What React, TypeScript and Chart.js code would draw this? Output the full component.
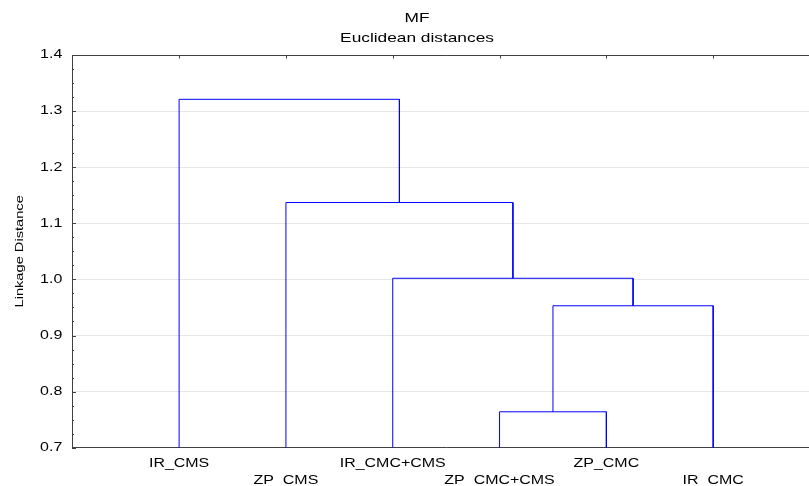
import React, { useEffect, useRef } from "react";
import { Chart, registerables } from "chart.js";

Chart.register(...registerables);

// ---- data ----
const LEAVES = ["IR_CMS", "ZP_CMS", "IR_CMC+CMS", "ZP_CMC+CMS", "ZP_CMC", "IR_CMC"];
// merges reference node ids: 0..5 are leaves, 6.. are merged clusters in order
const MERGE_LEFT = [3, 6, 2, 1, 0];
const MERGE_RIGHT = [4, 5, 7, 8, 9];
const MERGE_HEIGHT = [0.764, 0.953, 1.002, 1.137, 1.321];
const Y_MIN = 0.7;
const Y_MAX = 1.4;
const Y_STEP = 0.1;
const Y_MINOR_STEP = 0.025;
const TITLE_LINES = ["MF", "Euclidean distances"];
const Y_TITLE = "Linkage Distance";

const FONT = "Arial, 'Liberation Sans', sans-serif";
const TEXT_STRETCH = 1.33;
const AXIS_COLOR = "#404040";
const LINK_COLOR = "#0000ff";

function buildDatasets() {
  const nodeX: number[] = LEAVES.map((_, i) => i + 1);
  const nodeH: number[] = LEAVES.map(() => Y_MIN);
  const sets: any[] = [];
  for (let k = 0; k < MERGE_HEIGHT.length; k++) {
    const a = MERGE_LEFT[k];
    const b = MERGE_RIGHT[k];
    const h = MERGE_HEIGHT[k];
    sets.push({
      data: [
        { x: nodeX[a], y: nodeH[a] },
        { x: nodeX[a], y: h },
        { x: nodeX[b], y: h },
        { x: nodeX[b], y: nodeH[b] },
      ],
      showLine: true,
      borderColor: LINK_COLOR,
      borderWidth: 1,
      pointRadius: 0,
      pointHoverRadius: 0,
      tension: 0,
      fill: false,
    });
    nodeX.push((nodeX[a] + nodeX[b]) / 2);
    nodeH.push(h);
  }
  return sets;
}

function stretchText(ctx: any) {
  if (ctx.__stretched) return;
  ctx.__stretched = true;
  const origFill = ctx.fillText.bind(ctx);
  const origMeasure = ctx.measureText.bind(ctx);
  ctx.fillText = (text: string, x: number, y: number, maxWidth?: number) => {
    ctx.save();
    ctx.translate(x, y);
    ctx.scale(TEXT_STRETCH, 1);
    if (maxWidth !== undefined && maxWidth !== null) origFill(text, 0, 0, maxWidth / TEXT_STRETCH);
    else origFill(text, 0, 0);
    ctx.restore();
  };
  ctx.measureText = (text: string) => {
    const m = origMeasure(text);
    return {
      width: m.width * TEXT_STRETCH,
      actualBoundingBoxAscent: m.actualBoundingBoxAscent,
      actualBoundingBoxDescent: m.actualBoundingBoxDescent,
      actualBoundingBoxLeft: m.actualBoundingBoxLeft * TEXT_STRETCH,
      actualBoundingBoxRight: m.actualBoundingBoxRight * TEXT_STRETCH,
    };
  };
}

const framePlugin = {
  id: "frame",
  afterDatasetsDraw(chart: any) {
    const { ctx, chartArea, scales } = chart;
    const { left, right, top } = chartArea;
    const x = scales.x;
    const y = scales.y;
    ctx.save();
    ctx.strokeStyle = AXIS_COLOR;
    ctx.lineWidth = 1;
    const ty = Math.round(top) + 0.5;
    ctx.beginPath();
    ctx.moveTo(left, ty);
    ctx.lineTo(right, ty);
    ctx.stroke();
    // y ticks (inward)
    const lx = Math.round(left);
    const n = Math.round((Y_MAX - Y_MIN) / Y_MINOR_STEP);
    for (let i = 0; i <= n; i++) {
      const v = Y_MIN + i * Y_MINOR_STEP;
      const py = Math.round(y.getPixelForValue(v)) + 0.5;
      const major = i % Math.round(Y_STEP / Y_MINOR_STEP) === 0;
      ctx.beginPath();
      ctx.moveTo(lx, py);
      ctx.lineTo(lx + (major ? 4 : 2), py);
      ctx.stroke();
    }
    // top ticks at leaves (inward)
    LEAVES.forEach((_, i) => {
      const px = Math.round(x.getPixelForValue(i + 1)) + 0.5;
      ctx.beginPath();
      ctx.moveTo(px, ty);
      ctx.lineTo(px, ty + 3);
      ctx.stroke();
    });
    ctx.restore();
  },
};

export default function App() {
  const ref = useRef<HTMLCanvasElement | null>(null);

  useEffect(() => {
    const canvas = ref.current;
    if (!canvas) return;
    const ctx = canvas.getContext("2d");
    stretchText(ctx);
    const chart = new Chart(canvas, {
      type: "scatter",
      data: { datasets: buildDatasets() },
      plugins: [framePlugin],
      options: {
        animation: false,
        responsive: false,
        devicePixelRatio: 1,
        layout: { padding: { left: 14, right: 80, top: 0, bottom: 0 } },
        plugins: {
          legend: { display: false },
          tooltip: { enabled: false },
          title: {
            display: true,
            text: TITLE_LINES,
            color: "#000",
            font: { family: FONT, size: 13, weight: "normal", lineHeight: 1.5 },
            padding: { top: 9, bottom: 7 },
          },
        },
        scales: {
          x: {
            type: "linear",
            min: 0,
            max: LEAVES.length + 1,
            afterBuildTicks: (scale: any) => {
              scale.ticks = LEAVES.map((_, i) => ({ value: i + 1 }));
            },
            afterFit: (scale: any) => {
              scale.height = 38.3;
            },
            ticks: {
              autoSkip: false,
              maxRotation: 0,
              minRotation: 0,
              padding: 7,
              color: "#000",
              font: { family: FONT, size: 12, lineHeight: 17.5 / 12 },
              callback: (value: any) => {
                const i = Math.round(Number(value)) - 1;
                const label = LEAVES[i] ?? "";
                return i % 2 === 0 ? [label] : ["", label];
              },
            },
            grid: { display: false, drawTicks: false },
            border: { display: true, color: AXIS_COLOR, width: 1 },
          },
          y: {
            type: "linear",
            min: Y_MIN,
            max: Y_MAX,
            afterFit: (scale: any) => {
              scale.width = 58.3;
            },
            ticks: {
              stepSize: Y_STEP,
              padding: 10,
              color: "#000",
              font: { family: FONT, size: 12 },
              callback: (v: any) => Number(v).toFixed(1),
            },
            grid: { color: "#e6e6e6", lineWidth: 1, drawTicks: false },
            border: { display: true, color: AXIS_COLOR, width: 1 },
            title: {
              display: true,
              text: Y_TITLE,
              color: "#000",
              font: { family: FONT, size: 11, lineHeight: 1 },
              padding: 0,
            },
          },
        },
      } as any,
    });
    return () => {
      chart.destroy();
    };
  }, []);

  return (
    <div
      style={{
        position: "fixed",
        left: 0,
        top: 0,
        width: 809,
        height: 486,
        overflow: "hidden",
        background: "#fff",
      }}
    >
      <canvas ref={ref} width={900} height={486} style={{ display: "block" }} />
    </div>
  );
}
